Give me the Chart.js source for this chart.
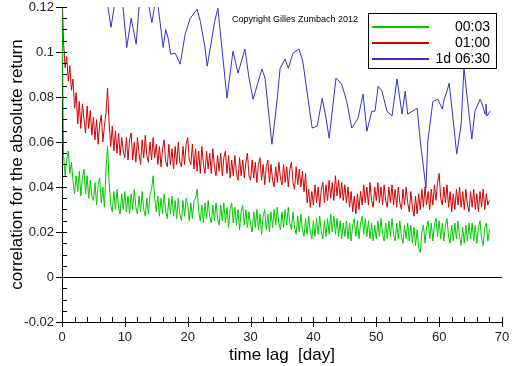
<!DOCTYPE html>
<html>
<head>
<meta charset="utf-8">
<script src="https://cdn.jsdelivr.net/npm/chart.js@4/dist/chart.umd.min.js"></script>
<style>
  html, body { margin: 0; padding: 0; background: #fff; }
  #wrap { width: 512px; height: 366px; }
</style>
</head>
<body>
<div id="wrap"><canvas id="corrChart" width="512" height="366"></canvas></div>
<script>
// sampling of the two noisy series (days between points)
const lagStep = 0.25;

// 00:03 (green)
const corr0003 = [
  0.125, 0.054, 0.045, 0.052, 0.056, 0.046, 0.051, 0.043, 0.037, 0.045, 0.038, 0.047, 0.036, 0.044, 0.048, 0.037, 0.045, 0.035, 0.043, 0.036,
  0.034, 0.042, 0.032, 0.041, 0.044, 0.033, 0.040, 0.031, 0.048, 0.058, 0.042, 0.032, 0.029, 0.038, 0.030, 0.039, 0.031, 0.028, 0.037, 0.030,
  0.038, 0.029, 0.036, 0.028, 0.037, 0.030, 0.039, 0.031, 0.028, 0.036, 0.029, 0.038, 0.030, 0.027, 0.035, 0.028, 0.037, 0.039, 0.045, 0.035,
  0.029, 0.036, 0.027, 0.035, 0.028, 0.037, 0.029, 0.026, 0.035, 0.028, 0.036, 0.027, 0.034, 0.026, 0.035, 0.028, 0.025, 0.034, 0.027, 0.035,
  0.032, 0.025, 0.033, 0.026, 0.034, 0.035, 0.039, 0.029, 0.025, 0.032, 0.024, 0.033, 0.026, 0.034, 0.027, 0.024, 0.032, 0.025, 0.033, 0.026,
  0.023, 0.032, 0.025, 0.033, 0.024, 0.031, 0.022, 0.030, 0.033, 0.024, 0.031, 0.023, 0.030, 0.021, 0.029, 0.032, 0.023, 0.030, 0.022, 0.029,
  0.023, 0.020, 0.029, 0.022, 0.030, 0.021, 0.028, 0.019, 0.027, 0.030, 0.021, 0.028, 0.020, 0.029, 0.022, 0.030, 0.023, 0.031, 0.024, 0.021,
  0.029, 0.022, 0.030, 0.023, 0.031, 0.024, 0.021, 0.029, 0.022, 0.019, 0.027, 0.020, 0.028, 0.021, 0.018, 0.026, 0.019, 0.027, 0.020, 0.017,
  0.025, 0.018, 0.026, 0.019, 0.027, 0.020, 0.017, 0.025, 0.018, 0.026, 0.019, 0.028, 0.020, 0.027, 0.019, 0.026, 0.018, 0.025, 0.017, 0.024,
  0.018, 0.025, 0.017, 0.024, 0.016, 0.023, 0.026, 0.018, 0.025, 0.017, 0.024, 0.027, 0.019, 0.026, 0.018, 0.025, 0.017, 0.024, 0.016, 0.023,
  0.017, 0.025, 0.018, 0.026, 0.019, 0.016, 0.024, 0.017, 0.025, 0.018, 0.026, 0.019, 0.016, 0.024, 0.017, 0.025, 0.018, 0.015, 0.023, 0.017,
  0.024, 0.016, 0.023, 0.015, 0.022, 0.014, 0.021, 0.013, 0.011, 0.020, 0.023, 0.015, 0.022, 0.025, 0.017, 0.024, 0.016, 0.023, 0.026, 0.018,
  0.025, 0.017, 0.024, 0.016, 0.023, 0.026, 0.018, 0.015, 0.023, 0.016, 0.024, 0.017, 0.025, 0.018, 0.014, 0.022, 0.015, 0.023, 0.016, 0.024,
  0.017, 0.024, 0.016, 0.023, 0.015, 0.022, 0.025, 0.017, 0.014, 0.022, 0.024, 0.016, 0.021
];

// 01:00 (red)
const corr0100 = [
  0.128, 0.104, 0.093, 0.098, 0.087, 0.094, 0.083, 0.088, 0.075, 0.082, 0.068, 0.078, 0.066, 0.077, 0.070, 0.064, 0.076, 0.066, 0.074, 0.063,
  0.071, 0.061, 0.070, 0.059, 0.068, 0.072, 0.060, 0.067, 0.073, 0.084, 0.068, 0.058, 0.067, 0.056, 0.065, 0.055, 0.064, 0.054, 0.062, 0.056,
  0.053, 0.062, 0.052, 0.061, 0.064, 0.052, 0.060, 0.051, 0.062, 0.055, 0.050, 0.061, 0.053, 0.063, 0.054, 0.051, 0.060, 0.052, 0.062, 0.053,
  0.059, 0.050, 0.058, 0.049, 0.057, 0.061, 0.051, 0.049, 0.059, 0.050, 0.057, 0.048, 0.058, 0.050, 0.060, 0.051, 0.049, 0.058, 0.050, 0.059,
  0.062, 0.052, 0.050, 0.059, 0.048, 0.057, 0.047, 0.056, 0.046, 0.058, 0.050, 0.046, 0.056, 0.048, 0.055, 0.046, 0.057, 0.049, 0.045, 0.054,
  0.047, 0.055, 0.045, 0.053, 0.056, 0.046, 0.054, 0.044, 0.052, 0.045, 0.054, 0.046, 0.043, 0.053, 0.045, 0.052, 0.044, 0.051, 0.055, 0.045,
  0.043, 0.052, 0.044, 0.051, 0.042, 0.050, 0.053, 0.043, 0.050, 0.041, 0.049, 0.052, 0.042, 0.050, 0.043, 0.040, 0.049, 0.042, 0.051, 0.044,
  0.041, 0.050, 0.042, 0.049, 0.040, 0.048, 0.051, 0.042, 0.039, 0.049, 0.041, 0.048, 0.040, 0.047, 0.038, 0.046, 0.033, 0.039, 0.031, 0.038,
  0.032, 0.041, 0.033, 0.040, 0.031, 0.039, 0.042, 0.033, 0.041, 0.034, 0.043, 0.035, 0.042, 0.034, 0.045, 0.036, 0.043, 0.035, 0.042, 0.034,
  0.041, 0.033, 0.040, 0.031, 0.038, 0.029, 0.036, 0.028, 0.037, 0.030, 0.038, 0.032, 0.041, 0.033, 0.040, 0.032, 0.042, 0.034, 0.031, 0.040,
  0.034, 0.042, 0.033, 0.040, 0.032, 0.041, 0.034, 0.031, 0.040, 0.033, 0.041, 0.032, 0.039, 0.031, 0.040, 0.033, 0.030, 0.039, 0.032, 0.040,
  0.033, 0.029, 0.038, 0.031, 0.027, 0.036, 0.028, 0.037, 0.030, 0.039, 0.031, 0.040, 0.032, 0.038, 0.030, 0.039, 0.032, 0.041, 0.034, 0.042,
  0.046, 0.035, 0.032, 0.040, 0.033, 0.041, 0.031, 0.038, 0.029, 0.037, 0.030, 0.039, 0.032, 0.040, 0.031, 0.038, 0.030, 0.039, 0.032, 0.029,
  0.038, 0.031, 0.039, 0.030, 0.037, 0.029, 0.038, 0.031, 0.039, 0.030, 0.037, 0.032, 0.034
];

// 1d 06:30 (blue), irregular lags
const lag1d0630 = [
  6.8, 7.3, 7.8, 8.3, 8.75, 9.7, 10.3, 11.0, 11.8, 12.25, 13.0, 13.85, 14.3, 15.0, 15.3, 16.1, 16.5, 16.9, 17.3, 18.0,
  18.8, 19.6, 20.4, 21.5, 22.0, 22.75, 23.1, 24.3, 24.8, 25.6, 26.25, 27.2, 28.0, 29.1, 29.75, 30.4, 31.8, 32.3, 33.4, 34.2,
  34.7, 35.5, 36.0, 36.75, 37.7, 38.3, 39.8, 40.6, 41.4, 42.0, 42.5, 43.6, 44.5, 45.3, 46.1, 47.1, 47.9, 48.5, 49.3, 49.8,
  50.3, 50.9, 51.7, 52.5, 53.3, 54.1, 54.6, 55.0, 56.5, 57.0, 57.9, 58.2, 59.0, 59.8, 60.5, 60.8, 61.25, 61.6, 62.2, 62.8,
  63.5, 63.95, 64.4, 65.2, 65.7, 66.5, 66.8, 67.3, 67.45, 67.6, 68.1
];
const corr1d0630 = [
  0.130, 0.120, 0.111, 0.120, 0.135, 0.120, 0.102, 0.115, 0.1035, 0.120, 0.130, 0.120, 0.113, 0.125, 0.120, 0.102, 0.110, 0.106, 0.099, 0.0995,
  0.0946, 0.108, 0.115, 0.119, 0.1137, 0.102, 0.0937, 0.1137, 0.1195, 0.0973, 0.0795, 0.1004, 0.0906, 0.1013, 0.0884, 0.079, 0.0924, 0.0884, 0.059, 0.078,
  0.0928, 0.0968, 0.0928, 0.0995, 0.1013, 0.096, 0.0662, 0.0671, 0.0795, 0.0706, 0.0617, 0.0884, 0.0857, 0.078, 0.0662, 0.0706, 0.0813, 0.0648, 0.0737, 0.0737,
  0.0848, 0.0826, 0.0737, 0.0715, 0.088, 0.0724, 0.0826, 0.0724, 0.075, 0.0604, 0.0395, 0.0604, 0.078, 0.079, 0.0746, 0.079, 0.0826, 0.0862, 0.0706, 0.0546,
  0.068, 0.0928, 0.0813, 0.0613, 0.0737, 0.079, 0.0773, 0.0724, 0.0768, 0.0715, 0.0737
];

const seriesNames = ['00:03', '01:00', '1d 06:30'];
const seriesColors = ['#00c800', '#cc0000', '#3333cc'];

const xMin = 0, xMax = 70, xMajor = 10, xMinor = 2;
const yMin = -0.02, yMax = 0.12, yMinor = 0.005;
const yTicks = [-0.02, 0, 0.02, 0.04, 0.06, 0.08, 0.1, 0.12];
const yTickLabels = ['-0.02', '0', '0.02', '0.04', '0.06', '0.08', '0.1', '0.12'];

const copyrightText = 'Copyright Gilles Zumbach 2012';

function evenPoints(values) {
  return values.map((v, i) => ({ x: i * lagStep, y: v }));
}

const tickMarks = {
  id: 'tickMarks',
  afterDraw(chart) {
    const { ctx, chartArea, scales } = chart;
    const sx = scales.x, sy = scales.y;
    ctx.save();
    ctx.fillStyle = '#000';
    // y axis ticks, inside the plot (majors cross the axis)
    for (let k = 0; yMin + k * yMinor <= yMax + 1e-9; k++) {
      const v = yMin + k * yMinor;
      const py = Math.round(sy.getPixelForValue(v));
      const major = yTicks.some(t => Math.abs(t - v) < 1e-9);
      const x0 = Math.round(chartArea.left) - (major ? 6 : 0);
      ctx.fillRect(x0, py, Math.round(chartArea.left) + 5 - x0, 1);
    }
    // x axis ticks
    for (let v = xMin; v <= xMax; v += xMinor) {
      const px = Math.round(sx.getPixelForValue(v));
      const major = v % xMajor === 0;
      const y0 = Math.round(chartArea.bottom) - 5;
      ctx.fillRect(px, y0, 1, 5 + (major ? 5 : 0));
    }

    // copyright
    ctx.font = '9px "Liberation Sans", Arial, sans-serif';
    ctx.textAlign = 'left';
    ctx.textBaseline = 'middle';
    ctx.fillText(copyrightText, 232, 20);

    // legend box
    const bx = 368, by = 13, bw = 129, bh = 56;
    ctx.fillStyle = '#000';
    ctx.fillRect(bx, by, bw, bh);
    ctx.fillStyle = '#fff';
    ctx.fillRect(bx + 1, by + 1, bw - 2, bh - 2);
    ctx.font = '14px "Liberation Sans", Arial, sans-serif';
    ctx.textAlign = 'right';
    seriesNames.forEach((name, i) => {
      const ly = 26 + i * 16;
      ctx.fillStyle = seriesColors[i];
      ctx.fillRect(372, ly, 57, 2);
      ctx.fillStyle = '#000';
      ctx.fillText(name, 490, ly + 1);
    });
    ctx.restore();
  }
};

document.addEventListener('DOMContentLoaded', function () {
  const ctx = document.getElementById('corrChart').getContext('2d');
  new Chart(ctx, {
    type: 'line',
    data: {
      datasets: [{
        label: seriesNames[0],
        data: evenPoints(corr0003),
        borderColor: seriesColors[0]
      }, {
        label: seriesNames[1],
        data: evenPoints(corr0100),
        borderColor: seriesColors[1]
      }, {
        label: seriesNames[2],
        data: lag1d0630.map((x, i) => ({ x: x, y: corr1d0630[i] })),
        borderColor: seriesColors[2]
      }]
    },
    options: {
      responsive: false,
      animation: false,
      parsing: false,
      elements: {
        line: { borderWidth: 1, tension: 0 },
        point: { radius: 0 }
      },
      layout: { padding: { top: 7, right: 10, left: 0, bottom: 0 } },
      plugins: {
        legend: { display: false },
        tooltip: { enabled: false }
      },
      scales: {
        x: {
          type: 'linear',
          min: xMin,
          max: xMax,
          afterFit: s => { s.height = 44; s.paddingLeft = 0; s.paddingRight = 0; },
          ticks: {
            stepSize: xMajor,
            color: '#222',
            padding: 8,
            maxRotation: 0,
            font: { family: '"Liberation Sans", Arial, sans-serif', size: 13 }
          },
          grid: { display: false, drawTicks: false },
          border: { display: true, color: '#000' },
          title: {
            display: true,
            text: 'time lag  [day]',
            color: '#000',
            padding: { top: 0, bottom: 0 },
            font: { family: '"Liberation Sans", Arial, sans-serif', size: 17 }
          }
        },
        y: {
          min: yMin,
          max: yMax,
          afterFit: s => { s.width = 62; s.paddingTop = 0; s.paddingBottom = 0; },
          afterBuildTicks: s => { s.ticks = yTicks.map(v => ({ value: v })); },
          ticks: {
            color: '#222',
            padding: 8,
            font: { family: '"Liberation Sans", Arial, sans-serif', size: 13 },
            callback: function (value) {
              const i = yTicks.findIndex(t => Math.abs(t - value) < 1e-9);
              return i >= 0 ? yTickLabels[i] : '';
            }
          },
          grid: {
            drawTicks: false,
            color: c => (c.tick && Math.abs(c.tick.value) < 1e-9) ? '#000' : 'rgba(0,0,0,0)'
          },
          border: { display: true, color: '#000' },
          title: {
            display: true,
            text: 'correlation for the absolute return',
            color: '#000',
            padding: { top: 7, bottom: 0 },
            font: { family: '"Liberation Sans", Arial, sans-serif', size: 17 }
          }
        }
      }
    },
    plugins: [tickMarks]
  });
});
</script>
</body>
</html>
